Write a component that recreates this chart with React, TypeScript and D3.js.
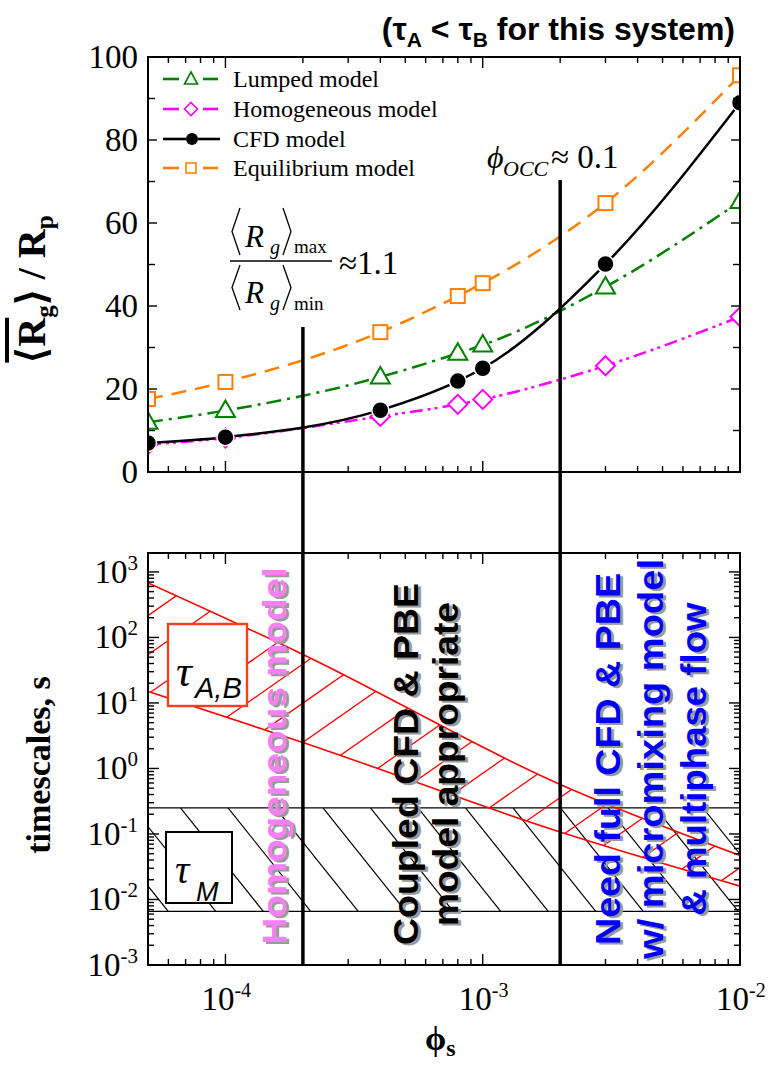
import React from 'react';
import * as d3 from 'd3';

// ---- upper panel: gyration radius ratio vs solids fraction ----
const phiValues = [5e-5, 1e-4, 4e-4, 8e-4, 1e-3, 3e-3, 1e-2];
const lumpedModel = [12, 14.8, 22.9, 28.6, 30.6, 44.6, 65.2];
const homogeneousModel = [6.6, 8.2, 13.4, 16.3, 17.5, 25.6, 37.4];
const cfdModel = [7, 8.4, 14.9, 21.9, 25, 50.1, 89];
const equilibriumModel = [17.6, 21.7, 33.7, 42.4, 45.5, 64.8, 95.6];
const topYTicks = [0, 20, 40, 60, 80, 100];

// ---- lower panel: characteristic timescales ----
const tauPhi = [5e-5, 2e-4, 2e-3, 1e-2];
const tauABUpper = [680, 55, 0.57, 0.047];
const tauABLower = [15, 2.5, 0.107, 0.016];
const tauMRange = [0.0066, 0.25];
const bottomYExponents = [-3, -2, -1, 0, 1, 2, 3];
const xExponents = [-4, -3, -2];

// regime boundaries
const phiBoundaries = [2e-4, 2e-3];

const SERIF = "'Liberation Serif', 'Times New Roman', serif";
const SANS = "'Liberation Sans', Arial, Helvetica, sans-serif";

const C_LUMPED = '#008000';
const C_HOMO = '#ff00ff';
const C_CFD = '#000000';
const C_EQ = '#ff8000';

type Seg = [number, number, number, number];

function hatchLines(x0: number, x1: number, y0: number, y1: number, slope: number, spacing: number, px: number, py: number): Seg[] {
  const out: Seg[] = [];
  for (const k of d3.range(-60, 61)) {
    const cx = px + k * spacing;
    const xa = cx + (y0 - py) / slope;
    const xb = cx + (y1 - py) / slope;
    if (Math.max(xa, xb) < x0 - 5 || Math.min(xa, xb) > x1 + 5) continue;
    out.push([xa, y0, xb, y1]);
  }
  return out;
}

function minorLogTicks(lo: number, hi: number, decades: number[]): number[] {
  const res: number[] = [];
  for (const e of decades) {
    for (let m = 1; m <= 9; m++) {
      const v = m * Math.pow(10, e);
      if (v >= lo * 0.999 && v <= hi * 1.001) res.push(v);
    }
  }
  return res;
}

export default function App() {
  const W = 768;
  const H = 1065;
  const L = 148;
  const R = 740;
  const TT = 57;
  const TB = 472;
  const BT = 553;
  const BB = 965;

  const x = d3.scaleLog().domain([5e-5, 1e-2]).range([L, R]);
  const yT = d3.scaleLinear().domain([0, 100]).range([TB, TT]);
  const yB = d3.scaleLog().domain([1e-3, 1945]).range([BB, BT]);

  const seriesLine = (vals: number[]) =>
    d3.line<number>()
      .x((_, i) => x(phiValues[i]))
      .y((d) => yT(d))
      .curve(d3.curveMonotoneX)(vals) as string;

  const tauLine = (vals: number[]) =>
    d3.line<number>()
      .x((_, i) => x(tauPhi[i]))
      .y((d) => yB(d))
      .curve(d3.curveMonotoneX)(vals) as string;

  const tauArea = d3.area<number>()
    .x((_, i) => x(tauPhi[i]))
    .y0((_, i) => yB(tauABLower[i]))
    .y1((d) => yB(d))
    .curve(d3.curveMonotoneX)(tauABUpper) as string;

  const xMinor = minorLogTicks(5e-5, 1e-2, [-5, -4, -3]);
  const yBMinor = minorLogTicks(1e-3, 1945, [-3, -2, -1, 0, 1, 2, 3]);

  const redHatch = hatchLines(L, R, 560, 930, -0.7, 56, 338, 757);
  const blackHatch = hatchLines(L, R, yB(tauMRange[1]), yB(tauMRange[0]), 1.25, 47.5, 323, yB(tauMRange[1]));

  const triangle = 'M0,-10L9.5,6.5L-9.5,6.5Z';
  const diamond = 'M0,-9.5L9.5,0L0,9.5L-9.5,0Z';

  const frame = (top: number, bottom: number) => (
    <rect x={L} y={top} width={R - L} height={bottom - top} fill="none" stroke="#000" strokeWidth={2} />
  );

  const xTickMarks = (top: number, bottom: number) => (
    <g stroke="#000" strokeWidth={1.4}>
      {xMinor.map((v, i) => {
        const major = Math.abs(Math.log10(v) - Math.round(Math.log10(v))) < 1e-6;
        const len = major ? 11 : 6;
        return (
          <g key={i}>
            <line x1={x(v)} x2={x(v)} y1={bottom} y2={bottom - len} />
            <line x1={x(v)} x2={x(v)} y1={top} y2={top + len} />
          </g>
        );
      })}
    </g>
  );

  const legendItems = [
    { label: 'Lumped model', color: C_LUMPED, kind: 'tri' },
    { label: 'Homogeneous model', color: C_HOMO, kind: 'dia' },
    { label: 'CFD model', color: C_CFD, kind: 'dot' },
    { label: 'Equilibrium model', color: C_EQ, kind: 'sq' },
  ];
  const legendRows = [79, 109, 139, 168];

  const shadowText = (
    lines: { text: string; x: number; len: number }[],
    cy: number,
    color: string,
    size: number,
    key: string
  ) => (
    <g key={key} fontFamily={SANS} fontWeight="bold" fontSize={size} textAnchor="middle">
      {lines.map((ln, i) => (
        <g key={i}>
          <text transform={`translate(${ln.x + 3},${cy + 2}) rotate(-90)`} fill="#9a9a9a"
            textLength={ln.len} lengthAdjust="spacingAndGlyphs">{ln.text}</text>
          <text transform={`translate(${ln.x},${cy}) rotate(-90)`} fill={color}
            textLength={ln.len} lengthAdjust="spacingAndGlyphs">{ln.text}</text>
        </g>
      ))}
    </g>
  );

  return (
    <svg width={W} height={H} viewBox={`0 0 ${W} ${H}`} style={{ position: 'absolute', left: 0, top: 0, background: '#fff' }}>
      <defs>
        <clipPath id="clipTop"><rect x={L} y={TT} width={R - L} height={TB - TT} /></clipPath>
        <clipPath id="clipBot"><rect x={L} y={BT} width={R - L} height={BB - BT} /></clipPath>
        <clipPath id="clipTauAB"><path d={tauArea} /></clipPath>
        <clipPath id="clipTauM">
          <rect x={L} y={yB(tauMRange[1])} width={R - L} height={yB(tauMRange[0]) - yB(tauMRange[1])} />
        </clipPath>
      </defs>
      <rect x={0} y={0} width={W} height={H} fill="#fff" />

      {/* title */}
      <text x={735} y={40} textAnchor="end" fontFamily={SANS} fontWeight="bold" fontSize={32}>
        (τ<tspan fontSize={21} dy={7}>A</tspan><tspan dy={-7}> &lt; τ</tspan><tspan fontSize={21} dy={7}>B</tspan><tspan dy={-7}> for this system)</tspan>
      </text>

      {/* ===== upper panel ===== */}
      <g clipPath="url(#clipTop)">
        <path d={seriesLine(equilibriumModel)} fill="none" stroke={C_EQ} strokeWidth={2.5} strokeDasharray="15 9" />
        <path d={seriesLine(lumpedModel)} fill="none" stroke={C_LUMPED} strokeWidth={2.5} strokeDasharray="15 6 3 6" />
        <path d={seriesLine(homogeneousModel)} fill="none" stroke={C_HOMO} strokeWidth={2.5} strokeDasharray="13 5 3 4 3 5" />
        <path d={seriesLine(cfdModel)} fill="none" stroke={C_CFD} strokeWidth={2.5} />

        {homogeneousModel.map((v, i) => (
          <path key={'h' + i} d={diamond} transform={`translate(${x(phiValues[i])},${yT(v)})`} fill="#fff" stroke={C_HOMO} strokeWidth={2} />
        ))}
        {lumpedModel.map((v, i) => (
          <path key={'l' + i} d={triangle} transform={`translate(${x(phiValues[i])},${yT(v)})`} fill="#fff" stroke={C_LUMPED} strokeWidth={2} />
        ))}
        {equilibriumModel.map((v, i) => (
          <rect key={'e' + i} x={x(phiValues[i]) - 7} y={yT(v) - 7} width={14} height={14} fill="#fff" stroke={C_EQ} strokeWidth={2} />
        ))}
        {cfdModel.map((v, i) => (
          <circle key={'c' + i} cx={x(phiValues[i])} cy={yT(v)} r={8.5} fill={C_CFD} stroke="#fff" strokeWidth={1.5} />
        ))}
      </g>

      {frame(TT, TB)}
      <g stroke="#000" strokeWidth={1.4}>
        {d3.range(0, 101, 10).map((v) => (
          <g key={v}>
            <line x1={L} x2={L + (v % 20 === 0 ? 9 : 7)} y1={yT(v)} y2={yT(v)} />
            <line x1={R} x2={R - (v % 20 === 0 ? 9 : 7)} y1={yT(v)} y2={yT(v)} />
          </g>
        ))}
      </g>
      {xTickMarks(TT, TB)}
      <g fontFamily={SERIF} fontSize={33} textAnchor="end">
        {topYTicks.map((v) => (
          <text key={v} x={138} y={yT(v) + 11}>{v}</text>
        ))}
      </g>

      {/* legend */}
      <g>
        {legendItems.map((it, i) => {
          const y = legendRows[i];
          const isDot = it.kind === 'dot';
          return (
            <g key={it.label}>
              <line x1={163} x2={isDot ? 186 : 179} y1={y} y2={y} stroke={it.color} strokeWidth={2.6} />
              <line x1={isDot ? 198 : 203} x2={isDot ? 220 : 218} y1={y} y2={y} stroke={it.color} strokeWidth={2.6} />
              {it.kind === 'tri' && <path d="M0,-7L6.5,5L-6.5,5Z" transform={`translate(191,${y})`} fill="#fff" stroke={it.color} strokeWidth={1.6} />}
              {it.kind === 'dia' && <path d="M0,-6.5L6.5,0L0,6.5L-6.5,0Z" transform={`translate(191,${y})`} fill="#fff" stroke={it.color} strokeWidth={1.6} />}
              {it.kind === 'dot' && <circle cx={192} cy={y} r={6} fill={it.color} />}
              {it.kind === 'sq' && <rect x={186} y={y - 5} width={10} height={10} fill="#fff" stroke={it.color} strokeWidth={1.6} />}
              <text x={233} y={y + 8} fontFamily={SERIF} fontSize={24}>{it.label}</text>
            </g>
          );
        })}
      </g>

      {/* y label, upper */}
      <text transform="translate(45,289) rotate(-90)" textAnchor="middle" fontFamily={SERIF} fontWeight="bold" fontSize={40}>
        <tspan style={{ textDecoration: 'overline' }}>⟨R</tspan><tspan fontSize={25} dy={8}>g</tspan><tspan dy={-8}>⟩ / R</tspan><tspan fontSize={25} dy={8}>p</tspan>
      </text>

      {/* ratio annotation */}
      <g fontFamily={SERIF} fill="#000">
        <path d="M240,208L232,231.5L240,255" fill="none" stroke="#000" strokeWidth={1.3} />
        <text x={245} y={247} fontSize={31} fontStyle="italic">R</text>
        <text x={270} y={254} fontSize={20} fontStyle="italic">g</text>
        <path d="M283,208L291,231.5L283,255" fill="none" stroke="#000" strokeWidth={1.3} />
        <text x={294} y={253} fontSize={19}>max</text>
        <line x1={230} x2={332} y1={261} y2={261} stroke="#000" strokeWidth={1.5} />
        <path d="M240,265L232,287.5L240,310" fill="none" stroke="#000" strokeWidth={1.3} />
        <text x={245} y={303} fontSize={31} fontStyle="italic">R</text>
        <text x={270} y={310} fontSize={20} fontStyle="italic">g</text>
        <path d="M283,265L291,287.5L283,310" fill="none" stroke="#000" strokeWidth={1.3} />
        <text x={294} y={310} fontSize={19}>min</text>
        <text x={339} y={274} fontSize={33}>≈1.1</text>
      </g>
      <g fontFamily={SERIF}>
        <text x={487} y={168} fontSize={32} fontStyle="italic">ϕ</text>
        <text x={503} y={176} fontSize={22} fontStyle="italic">OCC</text>
        <text x={551} y={168} fontSize={33}>≈ 0.1</text>
      </g>

      {/* ===== lower panel ===== */}
      <g clipPath="url(#clipBot)">
        {/* mixing timescale band */}
        <line x1={L} x2={R} y1={yB(tauMRange[1])} y2={yB(tauMRange[1])} stroke="#000" strokeWidth={1.3} />
        <line x1={L} x2={R} y1={yB(tauMRange[0])} y2={yB(tauMRange[0])} stroke="#000" strokeWidth={1.3} />
        <g clipPath="url(#clipTauM)" stroke="#000" strokeWidth={1.2}>
          {blackHatch.map((s, i) => <line key={i} x1={s[0]} y1={s[1]} x2={s[2]} y2={s[3]} />)}
        </g>
        {/* reaction timescale band */}
        <g clipPath="url(#clipTauAB)" stroke="#ff0000" strokeWidth={1.3}>
          {redHatch.map((s, i) => <line key={i} x1={s[0]} y1={s[1]} x2={s[2]} y2={s[3]} />)}
        </g>
        <path d={tauLine(tauABUpper)} fill="none" stroke="#ff0000" strokeWidth={1.6} />
        <path d={tauLine(tauABLower)} fill="none" stroke="#ff0000" strokeWidth={1.6} />
      </g>

      {/* timescale keys */}
      <rect x={168} y={624} width={79} height={82} fill="#fff" stroke="#f5401c" strokeWidth={2.4} />
      <text x={176} y={686} fontFamily={SERIF} fontStyle="italic" fontSize={44}>τ</text>
      <text x={195} y={698} fontFamily={SANS} fontStyle="italic" fontSize={29}>A,B</text>
      <rect x={166} y={832} width={66} height={71} fill="#fff" stroke="#000" strokeWidth={2} />
      <text x={175} y={883} fontFamily={SERIF} fontStyle="italic" fontSize={40}>τ</text>
      <text x={196} y={901} fontFamily={SANS} fontStyle="italic" fontSize={27}>M</text>

      {/* regime labels */}
      {shadowText([{ text: 'Homogeneous model', x: 286, len: 377 }], 756, '#f57ff5', 33, 'homo')}
      {shadowText([
        { text: 'Coupled CFD & PBE', x: 418, len: 362 },
        { text: 'model appropriate', x: 458, len: 324 },
      ], 764, '#000', 35, 'cpl')}
      {shadowText([
        { text: 'Need full CFD & PBE', x: 620, len: 372 },
        { text: 'w/ micromixing model', x: 663, len: 400 },
        { text: '& multiphase flow', x: 706, len: 313 },
      ], 759, '#0000ff', 35, 'full')}

      {frame(BT, BB)}
      <g stroke="#000" strokeWidth={1.4}>
        {yBMinor.map((v, i) => {
          const major = Math.abs(Math.log10(v) - Math.round(Math.log10(v))) < 1e-6;
          const len = major ? 11 : 6;
          return (
            <g key={i}>
              <line x1={L} x2={L + len} y1={yB(v)} y2={yB(v)} />
              <line x1={R} x2={R - len} y1={yB(v)} y2={yB(v)} />
            </g>
          );
        })}
      </g>
      {xTickMarks(BT, BB)}
      <g fontFamily={SERIF} fontSize={33} textAnchor="end">
        {bottomYExponents.map((e) => (
          <text key={e} x={138} y={yB(Math.pow(10, e)) + 11}>
            10<tspan fontSize={21} dy={-13}>{e}</tspan>
          </text>
        ))}
      </g>
      <g fontFamily={SERIF} fontSize={33}>
        {xExponents.map((e) => (
          <text key={e} x={x(Math.pow(10, e)) - 24} y={1010}>
            10<tspan fontSize={20} dy={-13}>{e}</tspan>
          </text>
        ))}
      </g>

      {/* regime boundaries */}
      <line x1={x(phiBoundaries[0])} x2={x(phiBoundaries[0])} y1={327} y2={BB} stroke="#000" strokeWidth={3.5} />
      <line x1={x(phiBoundaries[1])} x2={x(phiBoundaries[1])} y1={180} y2={BB} stroke="#000" strokeWidth={3.5} />

      {/* axis labels, lower */}
      <text transform="translate(50,765) rotate(-90)" textAnchor="middle" fontFamily={SERIF} fontWeight="bold" fontSize={34}>timescales, s</text>
      <text x={425} y={1050} fontFamily={SERIF} fontWeight="bold" fontSize={34}>
        ϕ<tspan fontSize={24} dy={6}>s</tspan>
      </text>
    </svg>
  );
}
